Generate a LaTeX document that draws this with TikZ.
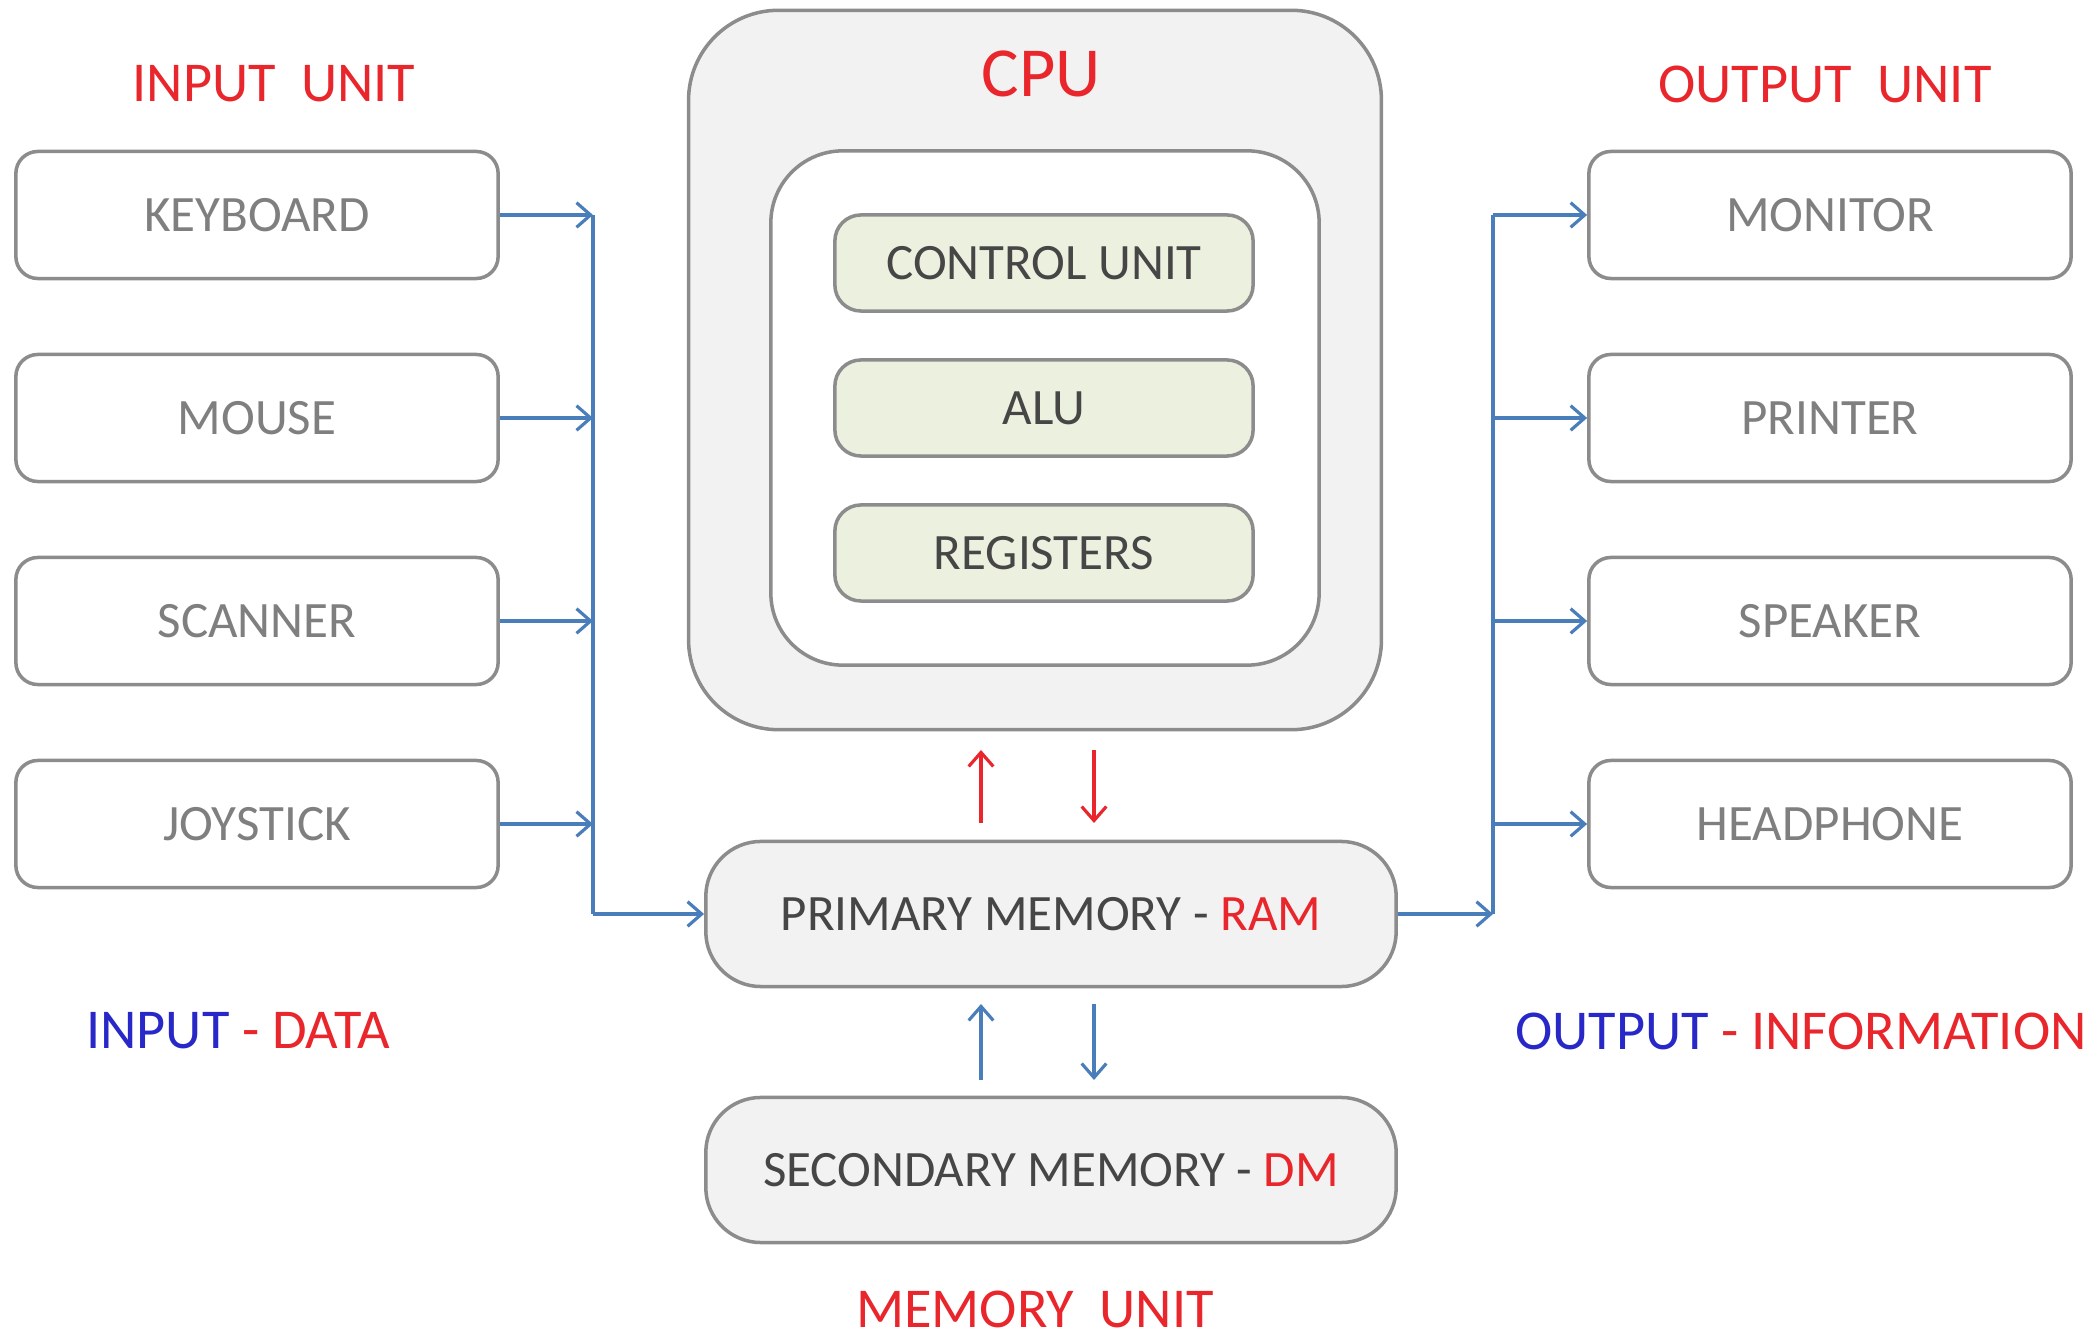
\documentclass[tikz,border=0pt]{standalone}
\usepackage{fontspec}
\setmainfont{Carlito}
\usetikzlibrary{arrows.meta}

\definecolor{boxline}{HTML}{8C8C8C}
\definecolor{labelgray}{HTML}{7F7F7F}
\definecolor{darktext}{HTML}{464646}
\definecolor{unitred}{HTML}{E8262B}
\definecolor{dirblue}{HTML}{2828C8}
\definecolor{flowblue}{HTML}{4A7EBB}
\definecolor{panel}{HTML}{F2F2F2}
\definecolor{leaf}{HTML}{EBF1DE}

\begin{document}
\begin{tikzpicture}[x=0.01cm,y=-0.01cm,
  devbox/.style={draw=boxline, line width=1pt, fill=white, rounded corners=0.22cm,
    minimum width=4.82cm, minimum height=1.27cm, inner sep=0pt, text=labelgray,
    font=\fontsize{14.5}{17}\selectfont},
  cpupart/.style={draw=boxline, line width=1pt, fill=leaf, rounded corners=0.26cm,
    minimum width=4.18cm, minimum height=0.96cm, inner sep=0pt, text=darktext,
    font=\fontsize{14.5}{17}\selectfont},
  membox/.style={draw=boxline, line width=1pt, fill=panel, rounded corners=0.55cm,
    minimum width=6.9cm, minimum height=1.45cm, inner sep=0pt, text=darktext,
    font=\fontsize{14.5}{17}\selectfont},
  unitlabel/.style={text=unitred, font=\fontsize{16}{19}\selectfont, inner sep=0pt},
  flow/.style={draw=flowblue, line width=0.9pt},
  flowtip/.style={flow, -{Straight Barb[length=4pt,width=7pt]}},
  redtip/.style={draw=unitred, line width=0.9pt, -{Straight Barb[length=4pt,width=7pt]}}
]
\useasboundingbox (0,0) rectangle (2099,1340);

% headings
\node[unitlabel] (intitle) at (274,84) {INPUT\ \ UNIT};
\node[unitlabel] (outtitle) at (1825,84) {OUTPUT\ \ UNIT};
\node[unitlabel] (memtitle) at (1035,1309) {MEMORY\ \ UNIT};
\node[inner sep=0pt, font=\fontsize{16}{19}\selectfont] (indata) at (238,1031)
  {\textcolor{dirblue}{INPUT} \textcolor{unitred}{- DATA}};
\node[inner sep=0pt, font=\fontsize{16}{19}\selectfont] (outinfo) at (1801,1031)
  {\textcolor{dirblue}{OUTPUT} \textcolor{unitred}{- INFORMATION}};

% processor
\node[draw=boxline, line width=1pt, fill=panel, rounded corners=0.9cm,
  minimum width=6.925cm, minimum height=7.19cm] (cpu) at (1035,370) {};
\node[draw=boxline, line width=1pt, fill=white, rounded corners=0.72cm,
  minimum width=5.48cm, minimum height=5.14cm] (core) at (1045,408) {};
\node[text=unitred, font=\fontsize{20}{24}\selectfont, inner sep=0pt] (cpulabel) at (1041,74) {CPU};
\node[cpupart] (cu) at (1044,263) {CONTROL UNIT};
\node[cpupart] (alu) at (1044,408) {ALU};
\node[cpupart] (reg) at (1044,553) {REGISTERS};

% memory
\node[membox] (ram) at (1051,914) {PRIMARY MEMORY - \textcolor{unitred}{RAM}};
\node[membox] (dm) at (1051,1170) {SECONDARY MEMORY - \textcolor{unitred}{DM}};

% input devices
\node[devbox] (kbd) at (257,215) {KEYBOARD};
\node[devbox] (mouse) at (257,418) {MOUSE};
\node[devbox] (scan) at (257,621) {SCANNER};
\node[devbox] (joy) at (257,824) {JOYSTICK};

% output devices
\node[devbox] (mon) at (1830,215) {MONITOR};
\node[devbox] (prn) at (1830,418) {PRINTER};
\node[devbox] (spk) at (1830,621) {SPEAKER};
\node[devbox] (hph) at (1830,824) {HEADPHONE};

% bus lines
\coordinate (lbus) at (593,0);
\coordinate (rbus) at (1493,0);

\foreach \d in {kbd,mouse,scan,joy}
  \draw[flowtip] (\d.east) -- (\d.east -| lbus);
\draw[flow] (kbd.east -| lbus) -- (ram.west -| lbus);
\draw[flowtip] (ram.west -| lbus) -- (ram.west);

\draw[flowtip] (ram.east) -- (ram.east -| rbus);
\draw[flow] (ram.east -| rbus) -- (mon.west -| rbus);
\foreach \d in {mon,prn,spk,hph}
  \draw[flowtip] (\d.west -| rbus) -- (\d.west);

% CPU <-> RAM
\coordinate (cpuupS) at (981,823);
\coordinate (cpuupE) at (981,750);
\coordinate (cpudnS) at (1094,750);
\coordinate (cpudnE) at (1094,823);
\draw[redtip] (cpuupS) -- (cpuupE);
\draw[redtip] (cpudnS) -- (cpudnE);

% RAM <-> secondary memory
\coordinate (dmupS) at (981,1080);
\coordinate (dmupE) at (981,1004);
\coordinate (dmdnS) at (1094,1004);
\coordinate (dmdnE) at (1094,1080);
\draw[flowtip] (dmupS) -- (dmupE);
\draw[flowtip] (dmdnS) -- (dmdnE);
\end{tikzpicture}
\end{document}
